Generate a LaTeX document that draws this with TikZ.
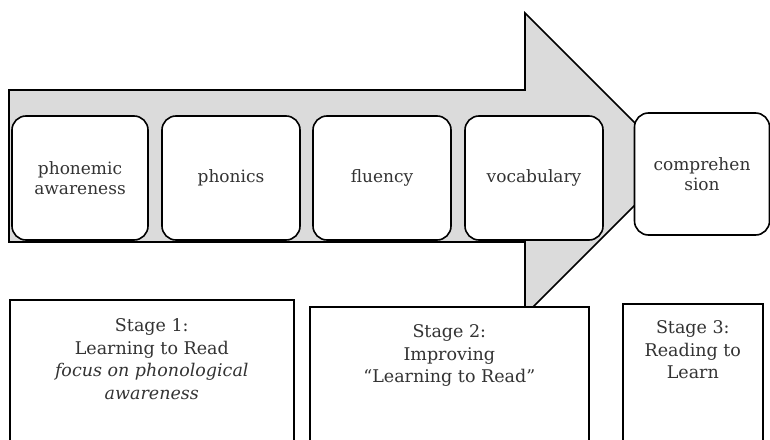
\documentclass[tikz,border=0pt]{standalone}
\usepackage{fontspec}
\setmainfont{DejaVu Serif}
\usepackage{tikz}
\tikzset{
  stepbox/.style={draw, line width=1.6pt, rounded corners=14pt, fill=white,
    minimum width=138pt, minimum height=124pt, align=center, text=black!80,
    font=\fontsize{17}{20}\selectfont},
  stagebox/.style={draw, line width=1.6pt, fill=white, anchor=north west,
    minimum height=170pt},
  stagetext/.style={anchor=north, align=center, text=black!80,
    font=\fontsize{17.5}{22.5}\selectfont}
}
\begin{document}
\begin{tikzpicture}[x=1pt,y=-1pt]
   \useasboundingbox (0,0) rectangle (770,439);
   \clip (0,0) rectangle (770,439);

   % big arrow behind the steps
   \draw [line width=1.6pt, fill=black!14]
      (9,90) -- (525,90) -- (525,13) -- (676,164) -- (525,315) -- (525,242) -- (9,242) -- cycle;

   \node [stepbox, minimum width=136pt] (phonemic) at (80,178) {phonemic\\awareness};
   \node [stepbox] (phonics) at (231,178) {phonics};
   \node [stepbox] (fluency) at (382,178) {fluency};
   \node [stepbox] (vocab) at (534,178) {vocabulary};
   \node [stepbox, minimum width=135pt, minimum height=122pt] (compr) at (702,174) {comprehen\\sion};

   \node [stagebox, minimum width=284pt] (stage1) at (9,299) {};
   \node [stagebox, minimum width=279pt] (stage2) at (309,306) {};
   \node [stagebox, minimum width=140pt] (stage3) at (622,303) {};

   \node [stagetext] (stage1txt) at ([yshift=-16pt]stage1.north)
      {Stage 1:\\Learning to Read\\\textit{focus on phonological}\\\textit{awareness}};
   \node [stagetext] (stage2txt) at ([yshift=-15pt]stage2.north)
      {Stage 2:\\Improving\\“Learning to Read”};
   \node [stagetext] (stage3txt) at ([yshift=-14pt]stage3.north)
      {Stage 3:\\Reading to\\Learn};
\end{tikzpicture}
\end{document}
